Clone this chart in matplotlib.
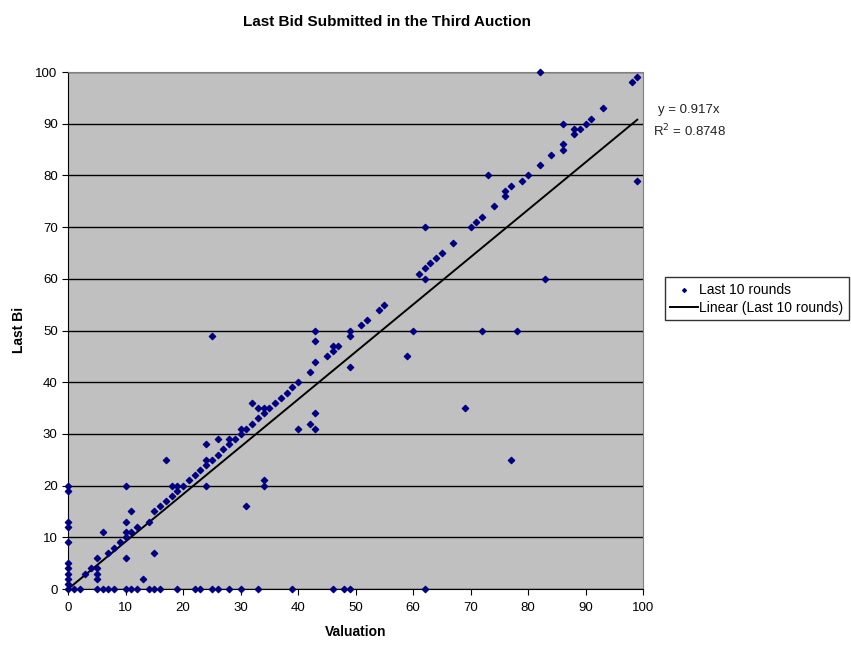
import matplotlib.pyplot as plt
import numpy as np

plt.rcParams['font.family'] = ['Liberation Sans', 'DejaVu Sans']

# valuation / last bid pairs
valuation = [0, 0, 0, 0, 0, 0, 0, 0, 0, 0, 0,
             1, 2, 5, 6, 7, 8, 10, 11, 12, 14, 15, 16, 19, 22, 23, 25, 26, 28, 30, 33, 39, 46, 48, 49, 62,
             3, 4, 5, 5, 5, 5, 6, 7, 8, 9, 10, 10, 10, 10, 10, 11, 11, 12, 13, 14, 15, 15, 16, 17, 17,
             18, 18, 19, 19, 20, 21, 22, 23, 24, 24, 24, 24, 25, 25, 26, 26, 27, 28, 28, 29, 30, 30, 31, 31,
             32, 32, 33, 33, 34, 34, 34, 34, 35, 36, 37, 38, 39, 40, 40, 42, 42, 43, 43, 43, 43, 43,
             45, 46, 46, 47, 49, 49, 49, 51, 52, 54, 55, 59, 60, 61, 62, 62, 62, 63, 64, 65, 67, 69,
             70, 71, 72, 72, 73, 74, 76, 76, 77, 77, 78, 79, 80, 82, 82, 83, 84, 86, 86, 86, 88, 88, 89,
             90, 91, 93, 98, 99, 99]
last_bid = [20, 19, 13, 12, 9, 5, 4, 3, 2, 1, 0,
            0, 0, 0, 0, 0, 0, 0, 0, 0, 0, 0, 0, 0, 0, 0, 0, 0, 0, 0, 0, 0, 0, 0, 0, 0,
            3, 4, 6, 4, 3, 2, 11, 7, 8, 9, 10, 6, 11, 13, 20, 11, 15, 12, 2, 13, 15, 7, 16, 25, 17,
            18, 20, 20, 19, 20, 21, 22, 23, 24, 25, 28, 20, 25, 49, 26, 29, 27, 28, 29, 29, 30, 31, 31, 16,
            32, 36, 35, 33, 35, 34, 21, 20, 35, 36, 37, 38, 39, 40, 31, 42, 32, 44, 48, 50, 34, 31,
            45, 46, 47, 47, 43, 49, 50, 51, 52, 54, 55, 45, 50, 61, 62, 60, 70, 63, 64, 65, 67, 35,
            70, 71, 72, 50, 80, 74, 76, 77, 78, 25, 50, 79, 80, 82, 100, 60, 84, 85, 86, 90, 88, 89, 89,
            90, 91, 93, 98, 99, 79]

slope = 0.917
r2 = 0.8748

fig = plt.figure(figsize=(8.51, 6.46), dpi=100)
ax = fig.add_axes([0.080, 0.0882, 0.6756, 0.8003])
ax.set_facecolor('#C0C0C0')

ax.scatter(valuation, last_bid, marker='D', s=10, color='#000080', zorder=3, clip_on=False,
           label='Last 10 rounds')
xfit = np.array([0, max(valuation)])
ax.plot(xfit, slope * xfit, color='black', lw=1.4, zorder=2, label='Linear (Last 10 rounds)')

ax.set_xlim(0, 100)
ax.set_ylim(0, 100)
ax.set_xticks(np.arange(0, 101, 10))
ax.set_yticks(np.arange(0, 101, 10))
ax.yaxis.grid(True, color='black', lw=1)
ax.set_axisbelow(True)
ax.tick_params(labelsize=9.5, length=4, color='black')
ax.tick_params(axis='x', pad=5)
for side in ['top', 'right']:
    ax.spines[side].set_color('#808080')
ax.spines['left'].set_color('black')
ax.spines['bottom'].set_color('black')

ax.set_xlabel('Valuation', fontsize=10, fontweight='bold', labelpad=8)
fig.text(0.022, 0.49, 'Last Bi', rotation=90, fontsize=10, fontweight='bold', va='center', ha='center')
fig.text(0.455, 0.977, 'Last Bid Submitted in the Third Auction', fontsize=11,
         fontweight='bold', ha='center', va='top',
         family=['Liberation Sans Narrow', 'Liberation Sans'])

fig.text(0.773, 0.83, 'y = 0.917x', fontsize=9.5, ha='left', va='center', color='#222222')
fig.text(0.767, 0.797, 'R$^2$ = 0.8748', fontsize=9.5, ha='left', va='center', color='#222222')

leg = fig.legend(loc='upper left', bbox_to_anchor=(0.781, 0.571), fontsize=10,
                 frameon=True, fancybox=False, edgecolor='black', handlelength=2.0,
                 borderpad=0.4, labelspacing=0.3, handletextpad=0.1, borderaxespad=0,
                 markerscale=0.6)
leg.get_frame().set_linewidth(1)

fig.savefig('out.png', dpi=100)
